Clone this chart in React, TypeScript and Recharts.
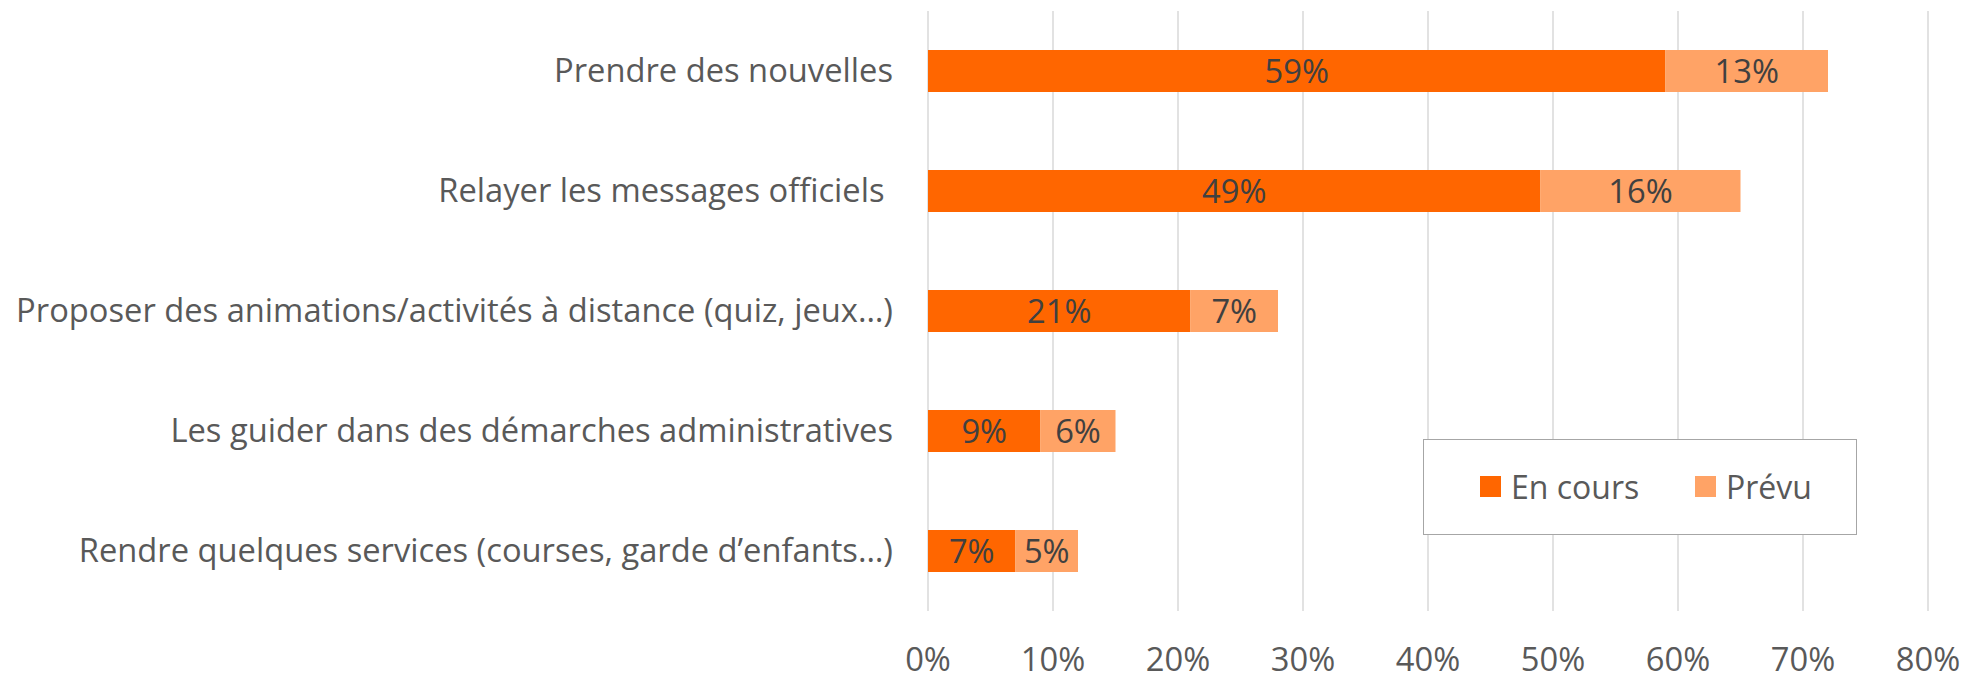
import React from 'react';
import { BarChart, Bar, XAxis, YAxis, CartesianGrid, LabelList } from 'recharts';

const categories = [
  'Prendre des nouvelles',
  'Relayer les messages officiels ',
  'Proposer des animations/activités à distance (quiz, jeux…)',
  'Les guider dans des démarches administratives',
  'Rendre quelques services (courses, garde d’enfants…)',
];
const enCours = [59, 49, 21, 9, 7];
const prevu = [13, 16, 7, 6, 5];
const xTicks = [0, 10, 20, 30, 40, 50, 60, 70, 80];
const seriesNames = ['En cours', 'Prévu'];
const colors = ['#FF6600', '#FFA366'];

const data = categories.map((c, i) => ({ name: c, enCours: enCours[i], prevu: prevu[i] }));

const FONT = '"Open Sans", sans-serif';
const FS = 32.7;

const CatTick = (props: any) => {
  const { x, y, payload } = props;
  return (
    <text x={x} y={y} dy="0.35em" textAnchor="end" fill="#595959" fontSize={FS} fontFamily={FONT} style={{ whiteSpace: 'pre' }}>
      {payload.value}
    </text>
  );
};

const NumTick = (props: any) => {
  const { x, y, payload } = props;
  return (
    <text x={x} y={y} dy="0.35em" textAnchor="middle" fill="#595959" fontSize={FS} fontFamily={FONT}>
      {`${payload.value}%`}
    </text>
  );
};

const LegendBox = () => (
  <div
    style={{
      position: 'absolute',
      left: 1423,
      top: 439,
      width: 434,
      height: 96,
      border: '1.5px solid #a6a6a6',
      background: '#fff',
      boxSizing: 'border-box',
      fontFamily: FONT,
      fontSize: 32,
      color: '#595959',
    }}
  >
    {seriesNames.map((n, i) => (
      <div key={n} style={{ position: 'absolute', left: i === 0 ? 56 : 271, top: 0, height: 93, display: 'flex', alignItems: 'center' }}>
        <span style={{ display: 'inline-block', width: 21, height: 21, background: colors[i], marginRight: 10 }} />
        <span style={{ lineHeight: '32px' }}>{n}</span>
      </div>
    ))}
  </div>
);

export default function App() {
  return (
    <div style={{ position: 'absolute', left: 0, top: 0, width: 1980, height: 675, background: '#fff' }}>
      <BarChart
        width={1980}
        height={675}
        data={data}
        layout="vertical"
        margin={{ top: 11, right: 52, bottom: 0, left: 0 }}
        style={{ fontFamily: FONT }}
      >
        <CartesianGrid horizontal={false} vertical={true} stroke="#d9d9d9" strokeWidth={1.5} />
        <XAxis
          type="number"
          domain={[0, 80]}
          ticks={xTicks}
          axisLine={false}
          tickLine={false}
          tickSize={0}
          tickMargin={49}
          height={64}
          tick={<NumTick />}
          interval={0}
        />
        <YAxis
          type="category"
          dataKey="name"
          width={928}
          axisLine={false}
          tickLine={false}
          tickSize={0}
          tickMargin={35}
          tick={<CatTick />}
          interval={0}
        />
        <Bar dataKey="enCours" name={seriesNames[0]} stackId="a" fill={colors[0]} barSize={42} isAnimationActive={false}>
          <LabelList dataKey="enCours" position="center" formatter={(v: any) => `${v}%`} fill="#404040" fontSize={FS} fontFamily={FONT} />
        </Bar>
        <Bar dataKey="prevu" name={seriesNames[1]} stackId="a" fill={colors[1]} barSize={42} isAnimationActive={false}>
          <LabelList dataKey="prevu" position="center" formatter={(v: any) => `${v}%`} fill="#404040" fontSize={FS} fontFamily={FONT} />
        </Bar>
      </BarChart>
      <LegendBox />
    </div>
  );
}
